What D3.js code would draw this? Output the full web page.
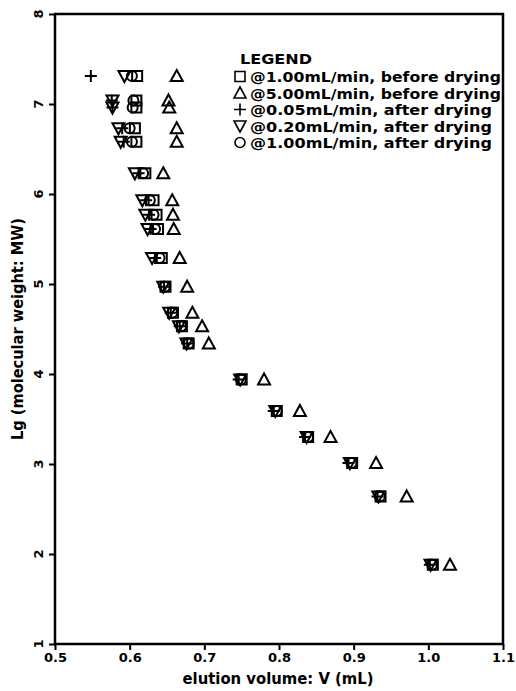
<!DOCTYPE html>
<html><head><meta charset="utf-8">
<script src="https://cdn.jsdelivr.net/npm/d3@7"></script>
<style>body{margin:0;background:#fff}</style></head>
<body><svg id="c" width="516" height="691"></svg>
<script>
// lg(MW) of each standard
const lgMW        = [7.31, 7.04, 6.96, 6.73, 6.58, 6.23, 5.93, 5.77, 5.61, 5.29, 4.97, 4.68, 4.53, 4.34, 3.94, 3.59, 3.30, 3.01, 2.64, 1.88];
// elution volumes (mL)
const sq100Before = [0.610, 0.609, 0.609, 0.607, 0.609, 0.621, 0.632, 0.636, 0.638, 0.643, 0.648, 0.658, 0.670, 0.679, 0.750, 0.797, 0.839, 0.898, 0.936, 1.006];
const tri500Before= [0.663, 0.652, 0.653, 0.663, 0.663, 0.645, 0.657, 0.658, 0.659, 0.667, 0.677, 0.684, 0.697, 0.706, 0.780, 0.828, 0.869, 0.930, 0.971, 1.029];
const plus005After= [0.548, 0.576, 0.577, 0.590, 0.592, 0.612, 0.622, 0.626, 0.628, 0.634, 0.646, 0.655, 0.667, 0.677, 0.746, 0.793, 0.835, 0.893, 0.932, 1.002];
const down020After= [0.593, 0.577, 0.577, 0.585, 0.588, 0.607, 0.617, 0.621, 0.624, 0.630, 0.645, 0.653, 0.666, 0.676, 0.748, 0.795, 0.837, 0.895, 0.933, 1.003];
const circ100After= [0.603, 0.605, 0.604, 0.600, 0.603, 0.618, 0.627, 0.632, 0.634, 0.640, 0.647, 0.657, 0.669, 0.679, 0.749, 0.797, 0.839, 0.897, 0.935, 1.005];
const xTicks = [0.5, 0.6, 0.7, 0.8, 0.9, 1.0, 1.1];
const yTicks = [1, 2, 3, 4, 5, 6, 7, 8];
const legendTitle = "LEGEND";
const legendLabels = ["@1.00mL/min, before drying", "@5.00mL/min, before drying", "@0.05mL/min, after drying", "@0.20mL/min, after drying", "@1.00mL/min, after drying"];
const legendShapes = ["square", "up", "plus", "down", "circle"];
const seriesValues = [sq100Before, tri500Before, plus005After, down020After, circ100After];

const svg = d3.select("#c");
const FONT = "'DejaVu Sans', 'Liberation Sans', sans-serif";
const x = d3.scaleLinear().domain([0.5, 1.1]).range([55, 503]);
const y = d3.scaleLinear().domain([1, 8]).range([644, 14]);

function shapePath(kind) {
  const p = d3.path();
  if (kind === "square") { p.rect(-5, -5, 10, 10); }
  else if (kind === "up") { p.moveTo(0, -6); p.lineTo(6, 5); p.lineTo(-6, 5); p.closePath(); }
  else if (kind === "down") { p.moveTo(0, 6); p.lineTo(6, -5); p.lineTo(-6, -5); p.closePath(); }
  else if (kind === "circle") { p.moveTo(5, 0); p.arc(0, 0, 5, 0, 2 * Math.PI); p.closePath(); }
  else if (kind === "plus") { p.moveTo(-6, 0); p.lineTo(6, 0); p.moveTo(0, -6); p.lineTo(0, 6); }
  return p.toString();
}

// frame
svg.append("rect").attr("x", x(0.5)).attr("y", y(8)).attr("width", x(1.1) - x(0.5)).attr("height", y(1) - y(8))
  .attr("fill", "none").attr("stroke", "#000").attr("stroke-width", 2.5);

// x axis
const gx = svg.append("g").attr("transform", `translate(0,${y(1)})`)
  .call(d3.axisBottom(x).tickValues(xTicks).tickFormat(d3.format(".1f")).tickSize(6).tickPadding(3));
gx.select(".domain").remove();
gx.selectAll("line").attr("stroke-width", 2);
gx.selectAll("text").attr("font-family", FONT).attr("font-weight", "bold").attr("font-size", 13).attr("fill", "#000");

// y axis (ticks from the axis, rotated labels drawn from the scale)
const gy = svg.append("g").attr("transform", `translate(${x(0.5)},0)`)
  .call(d3.axisLeft(y).tickValues(yTicks).tickFormat("").tickSize(6));
gy.select(".domain").remove();
gy.selectAll("line").attr("stroke-width", 2);
svg.append("g").selectAll("text").data(yTicks).join("text")
  .attr("transform", d => `translate(43,${y(d)}) rotate(-90)`)
  .attr("text-anchor", "middle")
  .attr("font-family", FONT).attr("font-weight", "bold").attr("font-size", 13).attr("fill", "#000")
  .text(d3.format("d"));

// titles
svg.append("text").attr("x", 278).attr("y", 684).attr("text-anchor", "middle")
  .attr("font-family", FONT).attr("font-weight", "bold").attr("font-size", 15.5).attr("fill", "#000")
  .attr("textLength", 191).attr("lengthAdjust", "spacingAndGlyphs")
  .text("elution volume: V (mL)");
svg.append("text").attr("transform", `translate(23,${(y(1) + y(8)) / 2}) rotate(-90)`).attr("text-anchor", "middle")
  .attr("font-family", FONT).attr("font-weight", "bold").attr("font-size", 15.5).attr("fill", "#000")
  .attr("textLength", 222).attr("lengthAdjust", "spacingAndGlyphs")
  .text("Lg (molecular weight: MW)");

// data markers
const plot = svg.append("g");
seriesValues.forEach((vals, si) => {
  plot.selectAll(null).data(vals.map((v, i) => [v, lgMW[i]])).join("path")
    .attr("transform", d => `translate(${x(d[0])},${y(d[1])})`)
    .attr("d", shapePath(legendShapes[si]))
    .attr("fill", "none").attr("stroke", "#000").attr("stroke-width", 2);
});

// legend
const lg = svg.append("g");
lg.append("text").attr("x", 240).attr("y", 64).attr("font-family", FONT).attr("font-weight", "bold").attr("font-size", 14.5).attr("fill", "#000")
  .attr("textLength", 72).attr("lengthAdjust", "spacingAndGlyphs").text(legendTitle);
const legendWidths = [251, 251, 242, 242, 242];
legendLabels.forEach((lab, i) => {
  const cy = 76.5 + i * 16.5;
  lg.append("path").attr("transform", `translate(240,${cy})`).attr("d", shapePath(legendShapes[i]))
    .attr("fill", "none").attr("stroke", "#000").attr("stroke-width", 1.6);
  lg.append("text").attr("x", 250).attr("y", cy + 5.5).attr("font-family", FONT).attr("font-weight", "bold").attr("font-size", 14.5).attr("fill", "#000")
    .attr("textLength", legendWidths[i]).attr("lengthAdjust", "spacingAndGlyphs").text(lab);
});
</script></body></html>
